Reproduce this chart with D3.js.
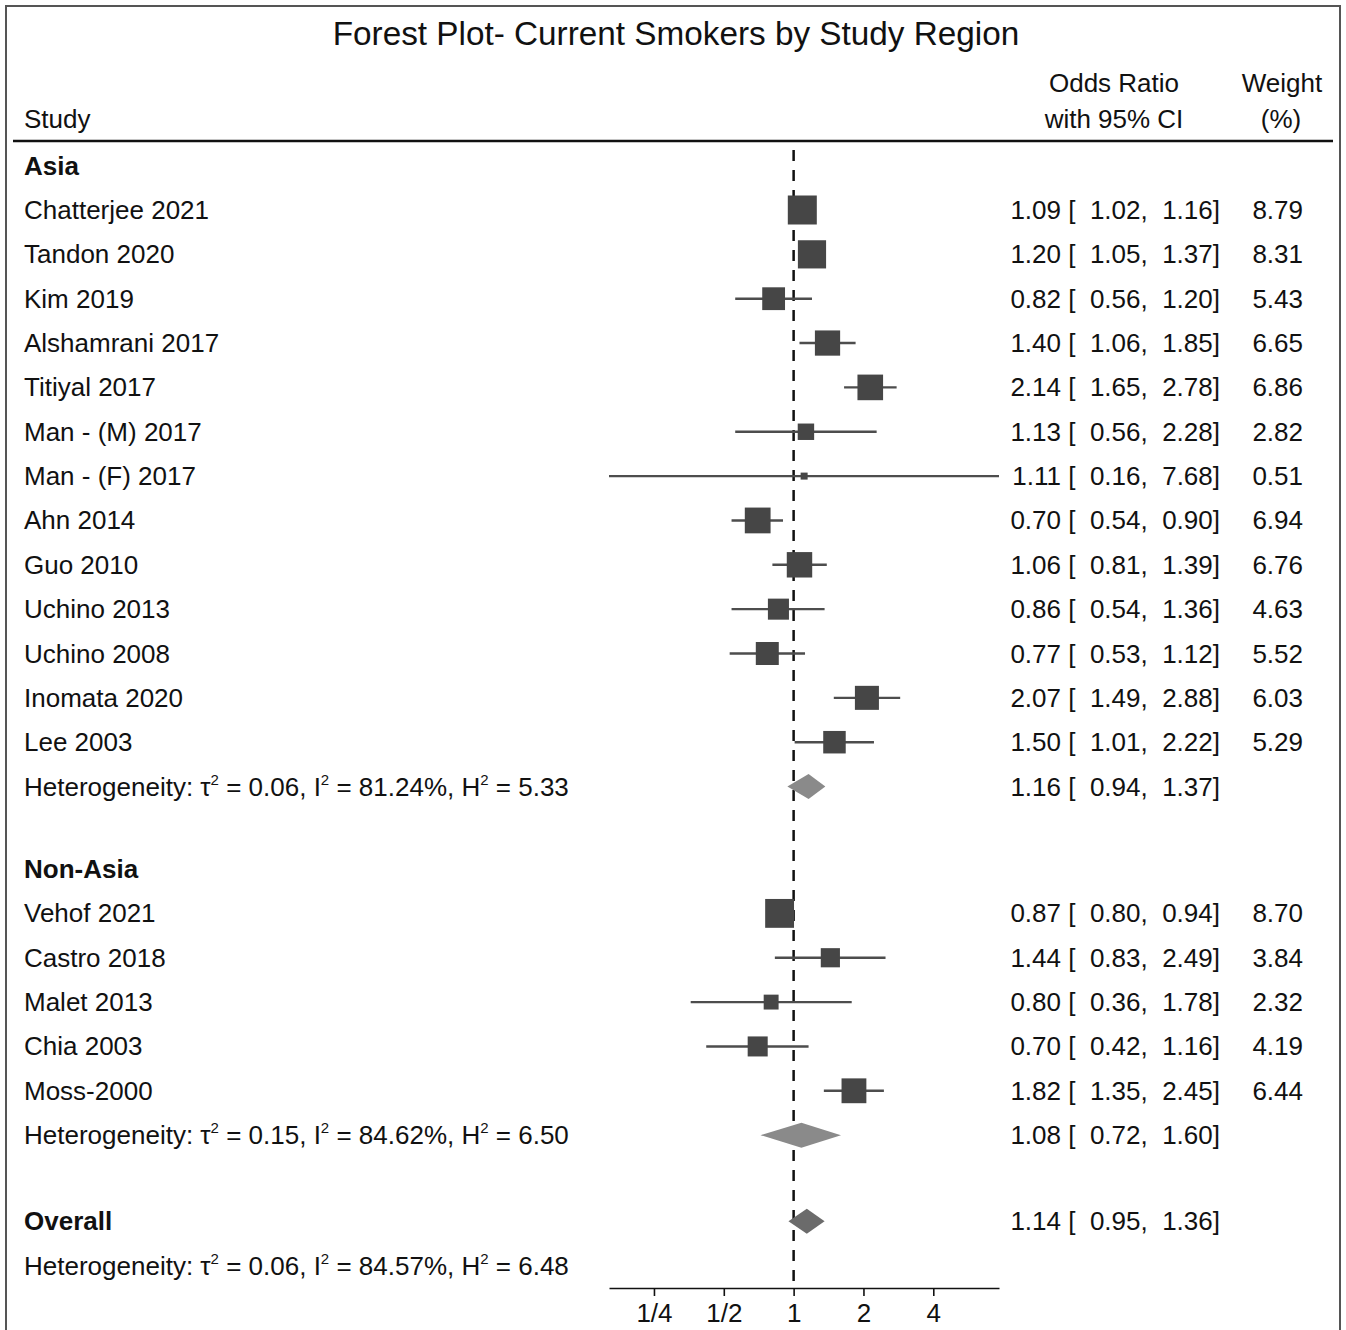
<!DOCTYPE html>
<html>
<head>
<meta charset="utf-8">
<script src="https://cdn.jsdelivr.net/npm/d3@7"></script>
<style>
  html, body { margin: 0; padding: 0; background: #fff; }
  svg text { font-family: "Liberation Sans", Arial, Helvetica, sans-serif; fill: #111; white-space: pre; }
</style>
</head>
<body>
<svg id="chart" width="1346" height="1330"></svg>
<script>
// Study-level odds ratios, 95% CIs and random-effects weights (%)
const asiaStudies = ["Chatterjee 2021", "Tandon 2020", "Kim 2019", "Alshamrani 2017", "Titiyal 2017",
  "Man - (M) 2017", "Man - (F) 2017", "Ahn 2014", "Guo 2010", "Uchino 2013", "Uchino 2008",
  "Inomata 2020", "Lee 2003"];
const asiaOR     = [1.09, 1.20, 0.82, 1.40, 2.14, 1.13, 1.11, 0.70, 1.06, 0.86, 0.77, 2.07, 1.50];
const asiaLower  = [1.02, 1.05, 0.56, 1.06, 1.65, 0.56, 0.16, 0.54, 0.81, 0.54, 0.53, 1.49, 1.01];
const asiaUpper  = [1.16, 1.37, 1.20, 1.85, 2.78, 2.28, 7.68, 0.90, 1.39, 1.36, 1.12, 2.88, 2.22];
const asiaWeight = [8.79, 8.31, 5.43, 6.65, 6.86, 2.82, 0.51, 6.94, 6.76, 4.63, 5.52, 6.03, 5.29];

const nonAsiaStudies = ["Vehof 2021", "Castro 2018", "Malet 2013", "Chia 2003", "Moss-2000"];
const nonAsiaOR     = [0.87, 1.44, 0.80, 0.70, 1.82];
const nonAsiaLower  = [0.80, 0.83, 0.36, 0.42, 1.35];
const nonAsiaUpper  = [0.94, 2.49, 1.78, 1.16, 2.45];
const nonAsiaWeight = [8.70, 3.84, 2.32, 4.19, 6.44];

// Pooled estimates: Asia, Non-Asia, Overall
const pooledLabels = ["Asia", "Non-Asia", "Overall"];
const pooledOR     = [1.16, 1.08, 1.14];
const pooledLower  = [0.94, 0.72, 0.95];
const pooledUpper  = [1.37, 1.60, 1.36];
// Heterogeneity statistics: tau^2, I^2 (%), H^2
const hetTau2 = ["0.06", "0.15", "0.06"];
const hetI2   = ["81.24", "84.62", "84.57"];
const hetH2   = ["5.33", "6.50", "6.48"];

const axisTicks = [0.25, 0.5, 1, 2, 4];
const axisTickLabels = ["1/4", "1/2", "1", "2", "4"];

const title = "Forest Plot- Current Smokers by Study Region";

// ---- layout ----
const svg = d3.select("#chart");
const W = 1346, H = 1330;

const xMin = d3.min(asiaLower.concat(nonAsiaLower));
const xMax = d3.max(asiaUpper.concat(nonAsiaUpper));
const x = d3.scaleLog().domain([xMin, xMax]).range([609, 999]);

// row slot -> vertical pixel position (centre of the row)
const y = d3.scaleLinear().domain([0, 1]).range([210, 254.35]);
const boxSide = d3.scaleSqrt().domain([0, 8.79]).range([0, 29]);

const colLabel = 24, colCI = 1220, colW = 1303;
const fs = 26;
const textDy = 9;

const FG = "#111";
const BOX = "#464646";
const CI_LINE = "#4d4d4d";

// frame
svg.append("rect").attr("x", 6).attr("y", 6).attr("width", W - 12).attr("height", H + 20)
  .attr("fill", "none").attr("stroke", "#555").attr("stroke-width", 2);

// title
svg.append("text").attr("x", 676).attr("y", 45).attr("text-anchor", "middle")
  .attr("font-size", 33.3).text(title);

function label(xp, yc, txt, opts = {}) {
  return svg.append("text")
    .attr("x", xp).attr("y", yc + textDy)
    .attr("text-anchor", opts.anchor || "start")
    .attr("font-size", opts.size || fs)
    .attr("font-weight", opts.bold ? "bold" : null)
    .text(txt);
}

// column headers
label(colLabel, y(-2.05), "Study");
label(1114, y(-2.86), "Odds Ratio", { anchor: "middle" });
label(1114, y(-2.05), "with 95% CI", { anchor: "middle" });
label(1282, y(-2.86), "Weight", { anchor: "middle" });
label(1281, y(-2.05), "(%)", { anchor: "middle" });

svg.append("line").attr("x1", 13).attr("x2", 1333).attr("y1", 141).attr("y2", 141)
  .attr("stroke", "#111").attr("stroke-width", 2.5);

// axis
const axisY = 1288;
// reference line at OR = 1
svg.append("line").attr("x1", x(1)).attr("x2", x(1)).attr("y1", 150).attr("y2", axisY)
  .attr("stroke", "#111").attr("stroke-width", 2.5).attr("stroke-dasharray", "11,9");

const axis = d3.axisBottom(x).tickValues(axisTicks)
  .tickFormat((d, i) => axisTickLabels[i]).tickSize(8).tickSizeOuter(0).tickPadding(8);
const gAxis = svg.append("g").attr("transform", `translate(0,${axisY})`).call(axis);
gAxis.select(".domain").attr("stroke", "#111").attr("stroke-width", 1.6);
gAxis.selectAll(".tick line").attr("stroke", "#111").attr("stroke-width", 1.6);
gAxis.selectAll(".tick text").attr("font-size", fs).attr("font-family", "Liberation Sans, Arial, sans-serif")
  .attr("fill", FG);

const fmt = d3.format(".2f");
function ciText(or, lo, hi) {
  return `${fmt(or)} [  ${fmt(lo)},  ${fmt(hi)}]`;
}

function drawStudies(names, or, lo, hi, wt, startSlot) {
  names.forEach((name, i) => {
    const yc = y(startSlot + i);
    label(colLabel, yc, name);
    svg.append("line").attr("x1", x(lo[i])).attr("x2", x(hi[i])).attr("y1", yc).attr("y2", yc)
      .attr("stroke", CI_LINE).attr("stroke-width", 2.4);
    const s = boxSide(wt[i]);
    svg.append("rect").attr("x", x(or[i]) - s / 2).attr("y", yc - s / 2)
      .attr("width", s).attr("height", s).attr("fill", BOX);
    label(colCI, yc, ciText(or[i], lo[i], hi[i]), { anchor: "end" });
    label(colW, yc, fmt(wt[i]), { anchor: "end" });
  });
}

function drawDiamond(k, slot, fill) {
  const yc = y(slot);
  const h = 12.5;
  const pts = [[x(pooledLower[k]), yc], [x(pooledOR[k]), yc - h], [x(pooledUpper[k]), yc], [x(pooledOR[k]), yc + h]];
  svg.append("path").attr("d", d3.line()(pts) + "Z").attr("fill", fill);
  label(colCI, yc, ciText(pooledOR[k], pooledLower[k], pooledUpper[k]), { anchor: "end" });
}

// "Heterogeneity: τ² = …, I² = …%, H² = …" with raised exponents
function drawHet(k, slot) {
  const t = svg.append("text").attr("x", colLabel).attr("y", y(slot) + textDy).attr("font-size", fs);
  const parts = ["Heterogeneity: \u03C4", `= ${hetTau2[k]}, I`, `= ${hetI2[k]}%, H`, `= ${hetH2[k]}`];
  parts.forEach((p, i) => {
    t.append("tspan").attr("dy", i === 0 ? null : 11).text(i === 0 ? p : " " + p);
    if (i < parts.length - 1) {
      t.append("tspan").attr("font-size", 15).attr("dy", -11).text("2");
    }
  });
}

// Asia subgroup
label(colLabel, y(-1), pooledLabels[0], { bold: true });
drawStudies(asiaStudies, asiaOR, asiaLower, asiaUpper, asiaWeight, 0);
drawHet(0, 13);
drawDiamond(0, 13, "#8a8a8a");

// Non-Asia subgroup
label(colLabel, y(14.86), pooledLabels[1], { bold: true });
drawStudies(nonAsiaStudies, nonAsiaOR, nonAsiaLower, nonAsiaUpper, nonAsiaWeight, 15.86);
drawHet(1, 20.86);
drawDiamond(1, 20.86, "#8a8a8a");

// Overall
label(colLabel, y(22.8), pooledLabels[2], { bold: true });
drawDiamond(2, 22.8, "#6b6b6b");
drawHet(2, 23.8);
</script>
</body>
</html>
